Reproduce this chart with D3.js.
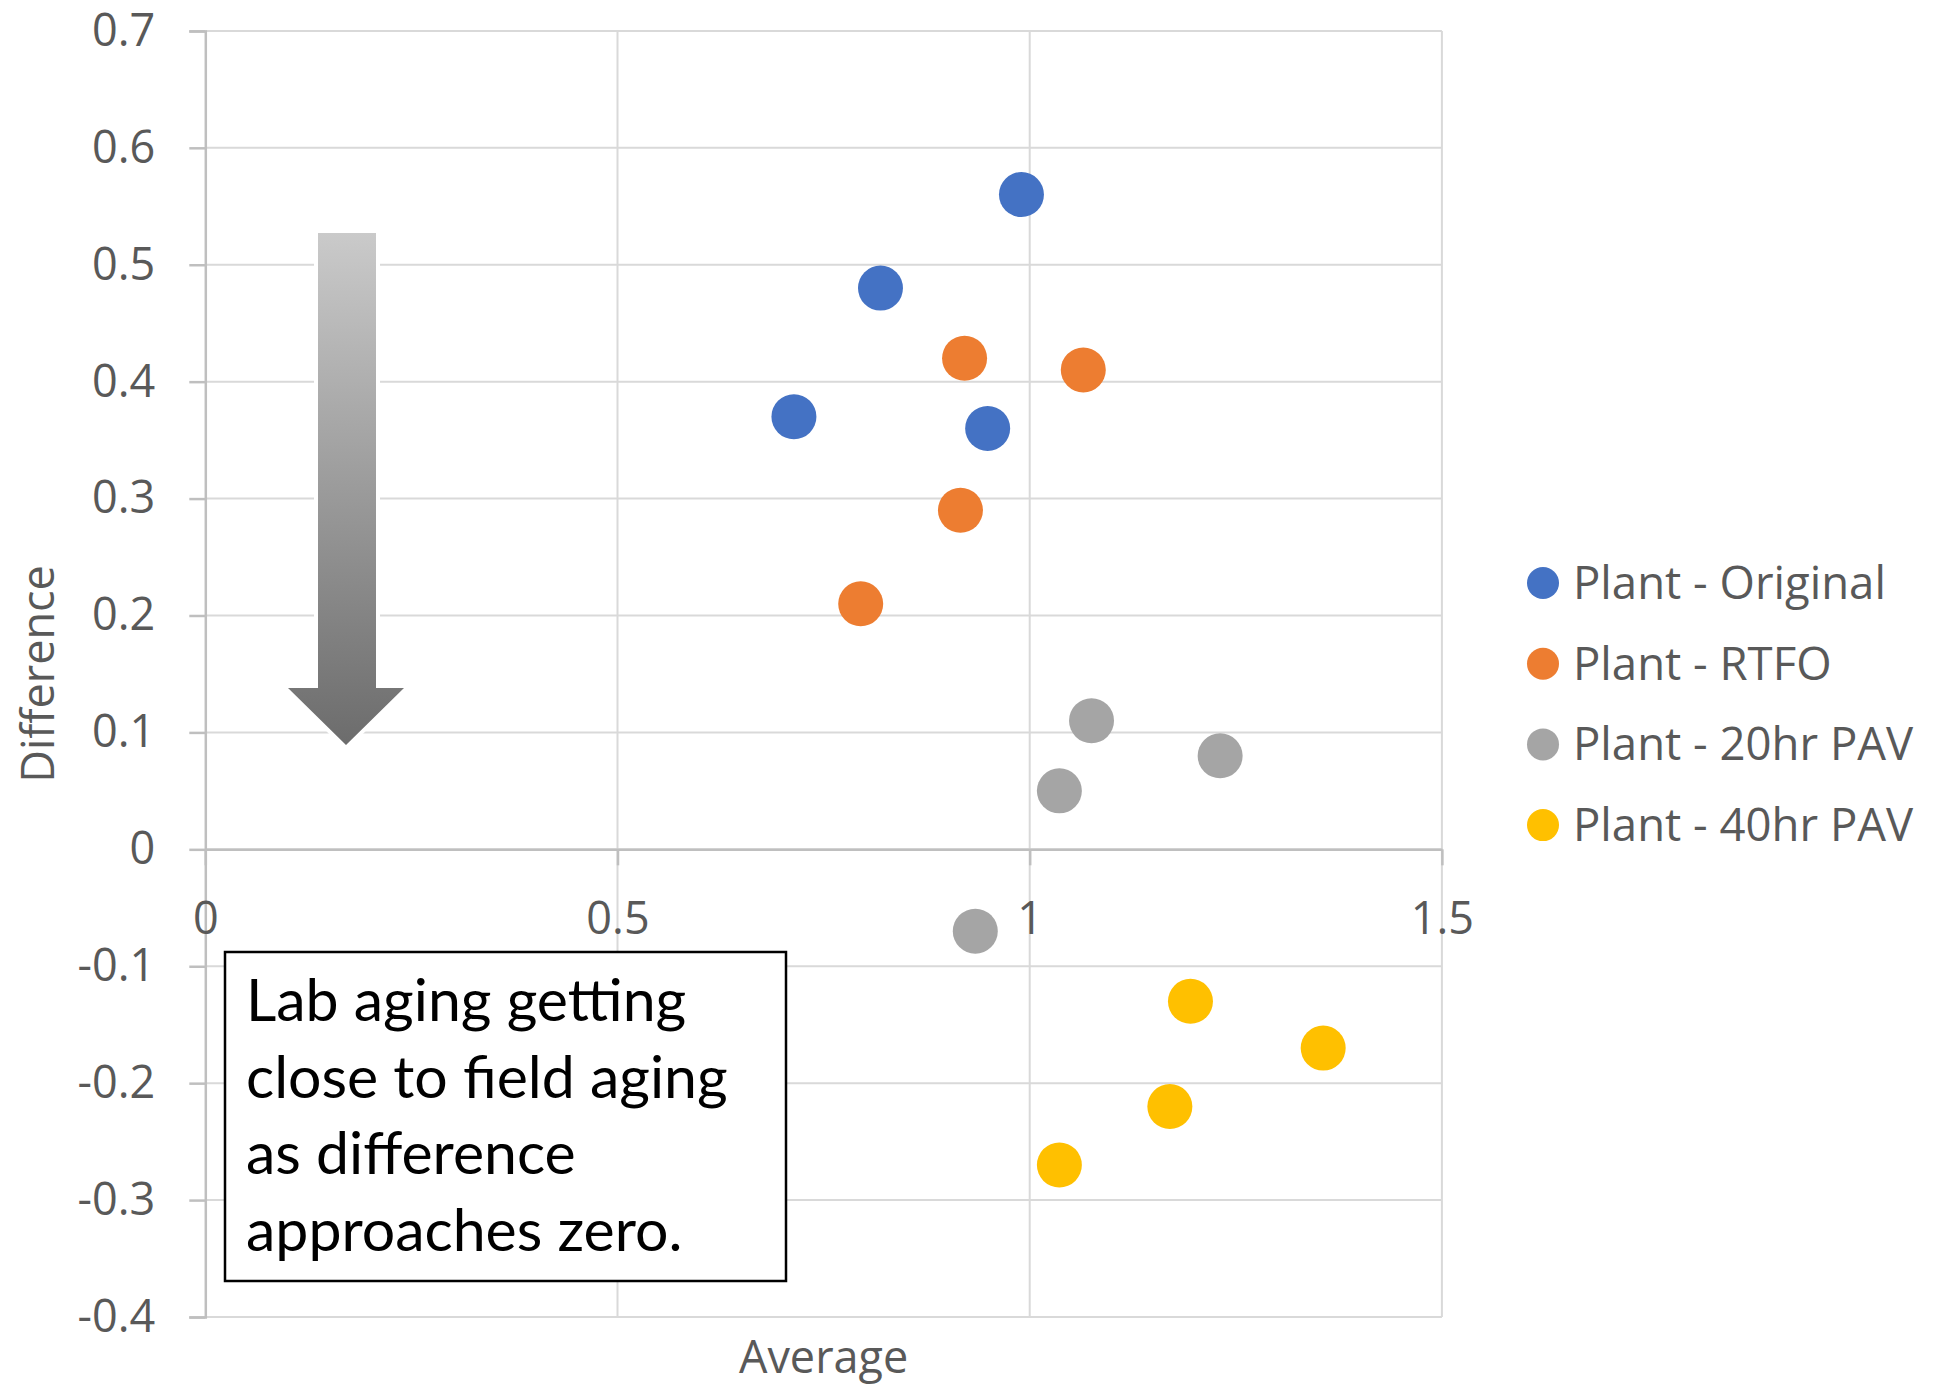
<!DOCTYPE html>
<html>
<head>
<meta charset="utf-8">
<script src="https://cdn.jsdelivr.net/npm/d3@7"></script>
<style>
  body{margin:0;background:#fff;}
  svg{display:block;}
</style>
</head>
<body>
<svg id="chart" width="1939" height="1385"></svg>
<script>
// series
var seriesNames = ["Plant - Original", "Plant - RTFO", "Plant - 20hr PAV", "Plant - 40hr PAV"];
var seriesColors = ["#4472C4", "#ED7D31", "#A5A5A5", "#FFC000"];

var originalAvg = [0.990, 0.819, 0.714, 0.949];
var originalDiff = [0.56, 0.48, 0.37, 0.36];
var rtfoAvg = [0.921, 1.065, 0.916, 0.795];
var rtfoDiff = [0.42, 0.41, 0.29, 0.21];
var pav20Avg = [1.075, 1.231, 1.036, 0.934];
var pav20Diff = [0.11, 0.08, 0.05, -0.07];
var pav40Avg = [1.195, 1.356, 1.170, 1.036];
var pav40Diff = [-0.13, -0.17, -0.22, -0.27];

var xTicks = [0, 0.5, 1, 1.5];
var yTicks = [0.7, 0.6, 0.5, 0.4, 0.3, 0.2, 0.1, 0, -0.1, -0.2, -0.3, -0.4];
var noteLines = ["Lab aging getting", "close to field aging", "as difference", "approaches zero."];

var allAvg = [originalAvg, rtfoAvg, pav20Avg, pav40Avg];
var allDiff = [originalDiff, rtfoDiff, pav20Diff, pav40Diff];

var svg = d3.select("#chart");
var x = d3.scaleLinear().domain([0, 1.5]).range([205.3, 1441.9]);
var y = d3.scaleLinear().domain([-0.4, 0.7]).range([1317, 30.9]);
var tickFont = "'Open Sans', 'Noto Sans', sans-serif";
var grey = "#595959";

// gridlines
svg.append("g").selectAll("line").data(yTicks).enter().append("line")
  .attr("x1", x(0)).attr("x2", x(1.5))
  .attr("y1", d => y(d)).attr("y2", d => y(d))
  .attr("stroke", "#d9d9d9").attr("stroke-width", 2);
svg.append("g").selectAll("line").data(xTicks.slice(1)).enter().append("line")
  .attr("x1", d => x(d)).attr("x2", d => x(d))
  .attr("y1", y(0.7)).attr("y2", y(-0.4))
  .attr("stroke", "#d9d9d9").attr("stroke-width", 2);

// y axis
var yAxis = d3.axisLeft(y).tickValues(yTicks).tickSize(16).tickPadding(34)
  .tickFormat(d => String(d));
var yg = svg.append("g").attr("transform", "translate(" + x(0) + ",0)").call(yAxis);
yg.select(".domain").attr("stroke", "#bfbfbf").attr("stroke-width", 2.5);
yg.selectAll(".tick line").attr("stroke", "#bfbfbf").attr("stroke-width", 2.5);
yg.selectAll("text").attr("font-family", tickFont).attr("font-size", 45).attr("fill", grey);

// x axis crossing at zero
var xAxis = d3.axisBottom(x).tickValues(xTicks).tickSize(16).tickSizeOuter(0).tickPadding(37)
  .tickFormat(d => String(d));
var xg = svg.append("g").attr("transform", "translate(0," + y(0) + ")").call(xAxis);
xg.select(".domain").attr("stroke", "#bfbfbf").attr("stroke-width", 2.5);
xg.selectAll(".tick line").attr("stroke", "#bfbfbf").attr("stroke-width", 2.5);
xg.selectAll("text").attr("font-family", tickFont).attr("font-size", 45).attr("fill", grey);

// axis titles
svg.append("text").attr("x", x(0.75)).attr("y", 1373)
  .attr("text-anchor", "middle").attr("font-family", tickFont).attr("font-size", 45)
  .attr("fill", grey).text("Average");
svg.append("text").attr("transform", "translate(54," + y(0.15) + ") rotate(-90)")
  .attr("text-anchor", "middle").attr("font-family", tickFont).attr("font-size", 45)
  .attr("fill", grey).text("Difference");

// gradient arrow
var defs = svg.append("defs");
var grad = defs.append("linearGradient").attr("id", "arrowGrad")
  .attr("x1", 0).attr("y1", 0).attr("x2", 0).attr("y2", 1);
grad.append("stop").attr("offset", "0%").attr("stop-color", "#cacaca");
grad.append("stop").attr("offset", "100%").attr("stop-color", "#6c6c6c");

var arrowPts = [[318, 233], [376, 233], [376, 688], [404, 688], [346, 745], [288, 688], [318, 688]];
var arrowPath = "M" + arrowPts.map(p => p.join(",")).join("L") + "Z";
svg.append("path").attr("d", arrowPath).attr("fill", "none")
  .attr("stroke", "#fff").attr("stroke-width", 8).attr("stroke-linejoin", "miter");
svg.append("path").attr("d", arrowPath).attr("fill", "url(#arrowGrad)");

// note box
svg.append("rect").attr("x", 225).attr("y", 952).attr("width", 561).attr("height", 329)
  .attr("fill", "#fff").attr("stroke", "#000").attr("stroke-width", 2.5);
svg.append("g").selectAll("text").data(noteLines).enter().append("text")
  .attr("x", 246).attr("y", (d, i) => 1021 + i * 76.5)
  .attr("font-family", "Lato, 'Open Sans', sans-serif").attr("font-size", 59)
  .attr("fill", "#000").text(d => d);

// points
seriesNames.forEach(function(name, s){
  var pts = allAvg[s].map((a, i) => ({avg: a, diff: allDiff[s][i]}));
  svg.append("g").selectAll("circle").data(pts).enter().append("circle")
    .attr("cx", d => x(d.avg)).attr("cy", d => y(d.diff))
    .attr("r", 22.5).attr("fill", seriesColors[s]);
});

// legend
var leg = svg.append("g").selectAll("g").data(seriesNames).enter().append("g")
  .attr("transform", (d, i) => "translate(1543," + (583 + i * 80.7) + ")");
leg.append("circle").attr("r", 16).attr("fill", (d, i) => seriesColors[i]);
leg.append("text").attr("x", 30).attr("dy", "0.35em")
  .attr("font-family", tickFont).attr("font-size", 45.5).attr("fill", grey).text(d => d);
</script>
</body>
</html>
